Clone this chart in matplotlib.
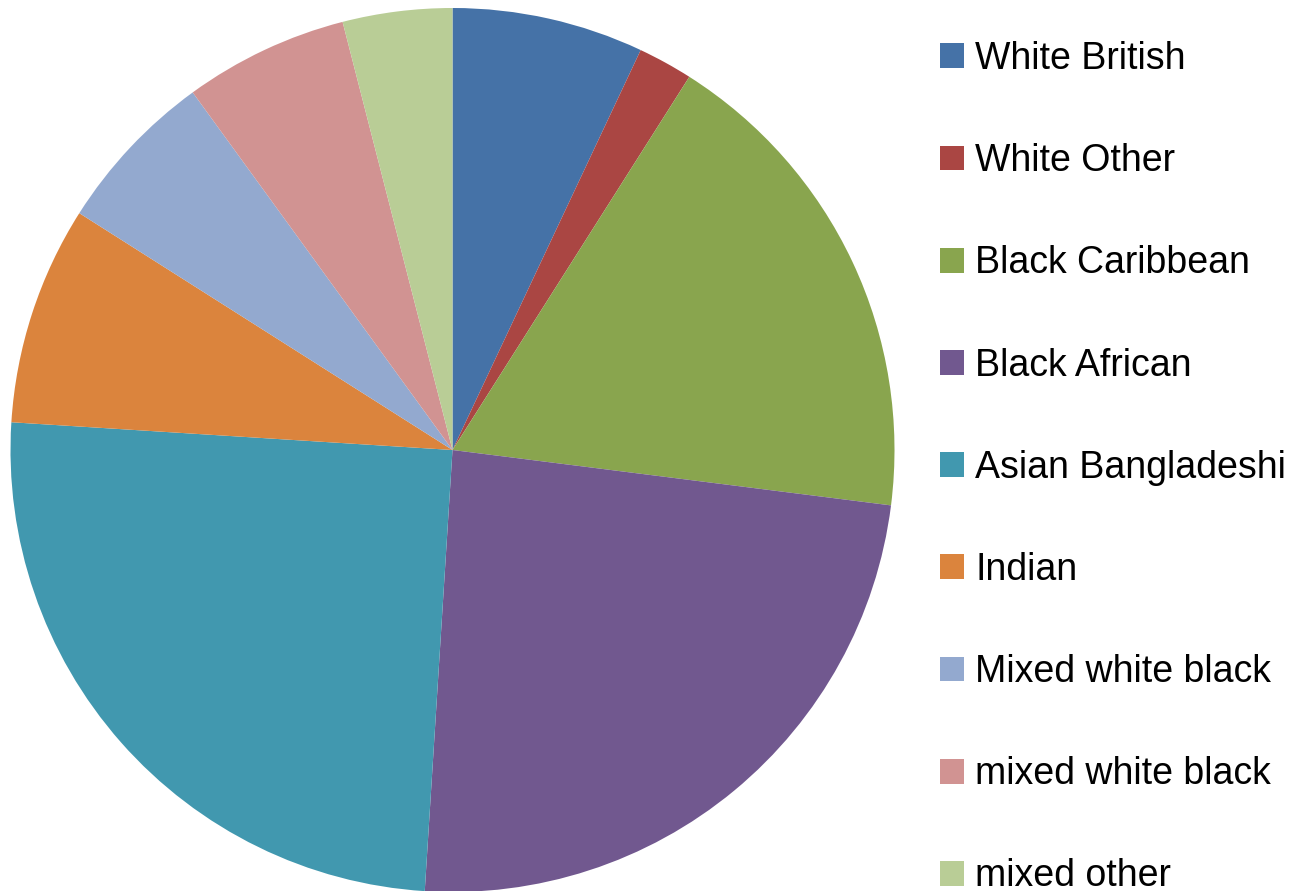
import matplotlib

matplotlib.use("Agg")
import matplotlib.pyplot as plt

groups = ["White British", "White Other", "Black Caribbean", "Black African",
          "Asian Bangladeshi", "Indian", "Mixed white black", "mixed white black",
          "mixed other"]
shares = [7, 2, 18, 24, 25, 8, 6, 6, 4]
colors = ["#4572A7", "#AA4643", "#89A54E", "#71588F", "#4198AF",
          "#DB843D", "#93A9CF", "#D19392", "#B9CD96"]

plt.rcParams["font.family"] = ["Liberation Sans", "DejaVu Sans"]

fig = plt.figure(figsize=(12.9, 8.91), dpi=100)
ax = fig.add_axes([10.5 / 1290, (441 - 442) / 891, 884 / 1290, 884 / 891])
wedges, _ = ax.pie(shares, colors=colors, startangle=90, counterclock=False,
                   radius=1, wedgeprops={"linewidth": 0})
ax.set_xlim(-1, 1)
ax.set_ylim(-1, 1)
ax.set_aspect("equal")
ax.axis("off")

fig.legend(wedges, groups, loc="upper left", bbox_to_anchor=(940 / 1290, 1 - 41 / 891),
           frameon=False, fontsize=27, handlelength=0.64, handleheight=0.64,
           handletextpad=0.3, labelspacing=1.765, borderaxespad=0, borderpad=0)

fig.savefig("out.png", dpi=100)
